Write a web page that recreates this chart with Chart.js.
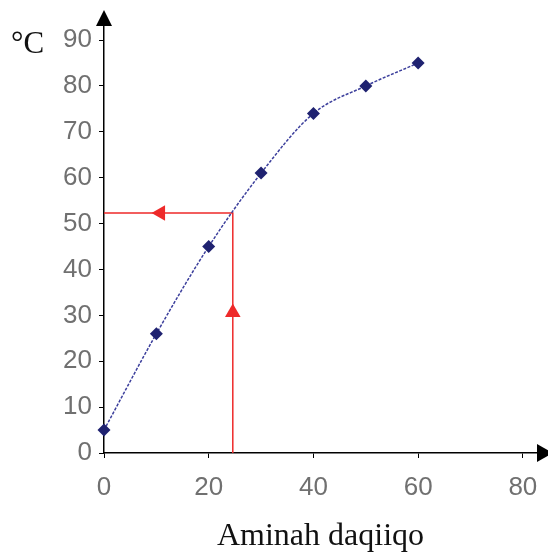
<!DOCTYPE html>
<html>
<head>
<meta charset="utf-8">
<script src="https://cdn.jsdelivr.net/npm/chart.js@4/dist/chart.umd.min.js"></script>
<style>
  html, body { margin: 0; padding: 0; background: #fff; }
  #wrap { width: 548px; height: 556px; position: relative; }
</style>
</head>
<body>
<div id="wrap"><canvas id="c"></canvas></div>
<script>
const minutes = [0, 10, 20, 30, 40, 50, 60];
const temps   = [5, 26, 45, 61, 74, 80, 85];
const xTicks  = [0, 20, 40, 60, 80];
const yTicks  = [0, 10, 20, 30, 40, 50, 60, 70, 80, 90];
const readX   = 24.6;   // red guide: time
const readY   = 52.3;   // red guide: temperature
const arrowUpAt   = 30.6;
const arrowLeftAt = 10.8;

const RED  = '#ee2a2a';
const NAVY = '#1f2270';

// axis arrows + °C label
const decor = {
  id: 'decor',
  afterDraw(chart) {
    const { ctx, chartArea: a } = chart;
    ctx.save();
    ctx.fillStyle = '#000';
    ctx.beginPath();
    ctx.moveTo(a.left, 10);
    ctx.lineTo(a.left - 8, 26);
    ctx.lineTo(a.left + 8, 26);
    ctx.closePath();
    ctx.fill();
    ctx.beginPath();
    ctx.moveTo(a.right + 16, a.bottom);
    ctx.lineTo(a.right, a.bottom - 9);
    ctx.lineTo(a.right, a.bottom + 9);
    ctx.closePath();
    ctx.fill();
    ctx.font = '31px "Liberation Serif"';
    ctx.textBaseline = 'alphabetic';
    ctx.fillStyle = '#111';
    ctx.fillText('°C', 11, 53);
    ctx.restore();
  }
};

// keep chart area fixed, ignore label overflow padding
function noPad(s) {
  s.paddingLeft = s.paddingRight = s.paddingTop = s.paddingBottom = 0;
}

new Chart(document.getElementById('c'), {
  type: 'line',
  data: {
    datasets: [
      {
        data: minutes.map((m, i) => ({ x: m, y: temps[i] })),
        borderColor: '#3c3f9c',
        borderWidth: 1.5,
        borderDash: [3, 1.5],
        cubicInterpolationMode: 'monotone',
        pointStyle: 'rectRot',
        pointRadius: 6.5,
        pointBackgroundColor: NAVY,
        pointBorderColor: NAVY,
        pointBorderWidth: 0,
        clip: false,
        order: 0
      },
      {
        data: [{ x: readX, y: 0 }, { x: readX, y: readY }, { x: 0, y: readY }],
        borderColor: RED,
        borderWidth: 1.5,
        pointRadius: 0,
        tension: 0,
        clip: false,
        order: 1
      },
      {
        data: [{ x: readX, y: arrowUpAt }],
        pointStyle: 'triangle',
        pointRadius: 9,
        pointBackgroundColor: RED,
        pointBorderColor: RED,
        pointBorderWidth: 0,
        showLine: false,
        order: 1
      },
      {
        data: [{ x: arrowLeftAt, y: readY }],
        pointStyle: 'triangle',
        pointRotation: -90,
        pointRadius: 9,
        pointBackgroundColor: RED,
        pointBorderColor: RED,
        pointBorderWidth: 0,
        showLine: false,
        order: 1
      }
    ]
  },
  options: {
    responsive: true,
    maintainAspectRatio: false,
    animation: false,
    layout: { padding: { top: 24, right: 11, left: 0, bottom: 0 } },
    plugins: { legend: { display: false }, tooltip: { enabled: false } },
    scales: {
      x: {
        type: 'linear',
        min: 0,
        max: 82.7,
        afterBuildTicks: s => { s.ticks = xTicks.map(v => ({ value: v })); },
        afterFit: s => { s.height = 103; noPad(s); },
        grid: { drawOnChartArea: false, tickLength: 5, tickColor: '#000', tickWidth: 1 },
        border: { color: '#000', width: 1.5 },
        ticks: { color: '#707070', font: { family: 'Liberation Sans', size: 26 }, padding: 14, maxRotation: 0 },
        title: {
          display: true,
          text: 'Aminah daqiiqo',
          color: '#111',
          font: { family: 'Liberation Serif', size: 32 },
          padding: { top: 20, bottom: 0 }
        }
      },
      y: {
        type: 'linear',
        min: 0,
        max: 93.5,
        afterBuildTicks: s => { s.ticks = yTicks.map(v => ({ value: v })); },
        afterFit: s => { s.width = 104; noPad(s); },
        grid: { drawOnChartArea: false, tickLength: 5, tickColor: '#000', tickWidth: 1 },
        border: { color: '#000', width: 1.5 },
        ticks: { color: '#707070', font: { family: 'Liberation Sans', size: 26 }, padding: 7 }
      }
    }
  },
  plugins: [decor]
});
</script>
</body>
</html>
